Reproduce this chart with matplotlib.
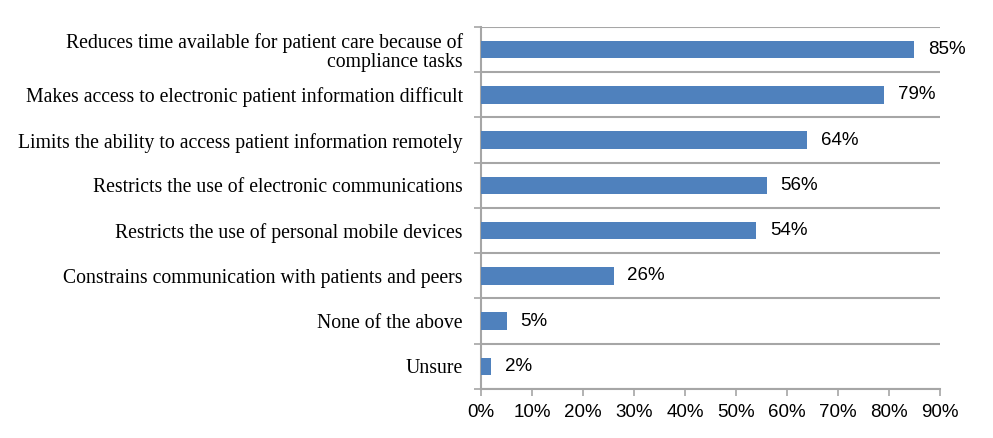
import matplotlib.pyplot as plt
import numpy as np
from matplotlib.ticker import FixedLocator, PercentFormatter

categories = ['Reduces time available for patient care because of\ncompliance tasks',
              'Makes access to electronic patient information difficult',
              'Limits the ability to access patient information remotely',
              'Restricts the use of electronic communications',
              'Restricts the use of personal mobile devices',
              'Constrains communication with patients and peers',
              'None of the above',
              'Unsure']
values = [85, 79, 64, 56, 54, 26, 5, 2]
xticks = [0, 10, 20, 30, 40, 50, 60, 70, 80, 90]

bar_color = '#4F81BD'
line_color = '#A6A6A6'

fig = plt.figure(figsize=(9.93, 4.38), dpi=100)
ax = fig.add_axes([0.4844, 0.1119, 0.4622, 0.8265])

y = np.arange(len(categories))
ax.barh(y, values, height=0.39, color=bar_color, zorder=3)
for yi, v in zip(y, values):
    ax.text(v + 2.7, yi, '%d%%' % v, va='center', ha='left',
            fontsize=13.5, family='Liberation Sans', color='black')

ax.set_xlim(0, 90)
ax.set_ylim(len(categories) - 0.5, -0.5)
ax.set_xticks(xticks)
ax.xaxis.set_major_formatter(PercentFormatter(decimals=0))
for lab in ax.get_xticklabels():
    lab.set_family('Liberation Sans')
    lab.set_fontsize(13.5)

ax.set_yticks(y)
ax.set_yticklabels(categories, family='Liberation Serif', fontsize=14.2,
                   linespacing=1.0)
ax.yaxis.set_minor_locator(FixedLocator(np.arange(-0.5, len(categories), 1)))
ax.tick_params(axis='y', which='major', length=0, pad=13)
ax.tick_params(axis='y', which='minor', length=5, color=line_color, width=1.2)
ax.tick_params(axis='x', length=5, color=line_color, width=1.2, pad=6)

ax.grid(axis='y', which='minor', color=line_color, linewidth=1.5, zorder=0)
ax.spines['top'].set_visible(False)
ax.spines['right'].set_visible(False)
ax.spines['left'].set_color(line_color)
ax.spines['bottom'].set_color(line_color)
ax.spines['left'].set_linewidth(1.5)
ax.spines['bottom'].set_linewidth(1.5)
ax.spines['bottom'].set_zorder(4)

fig.savefig('out.png', dpi=100)
